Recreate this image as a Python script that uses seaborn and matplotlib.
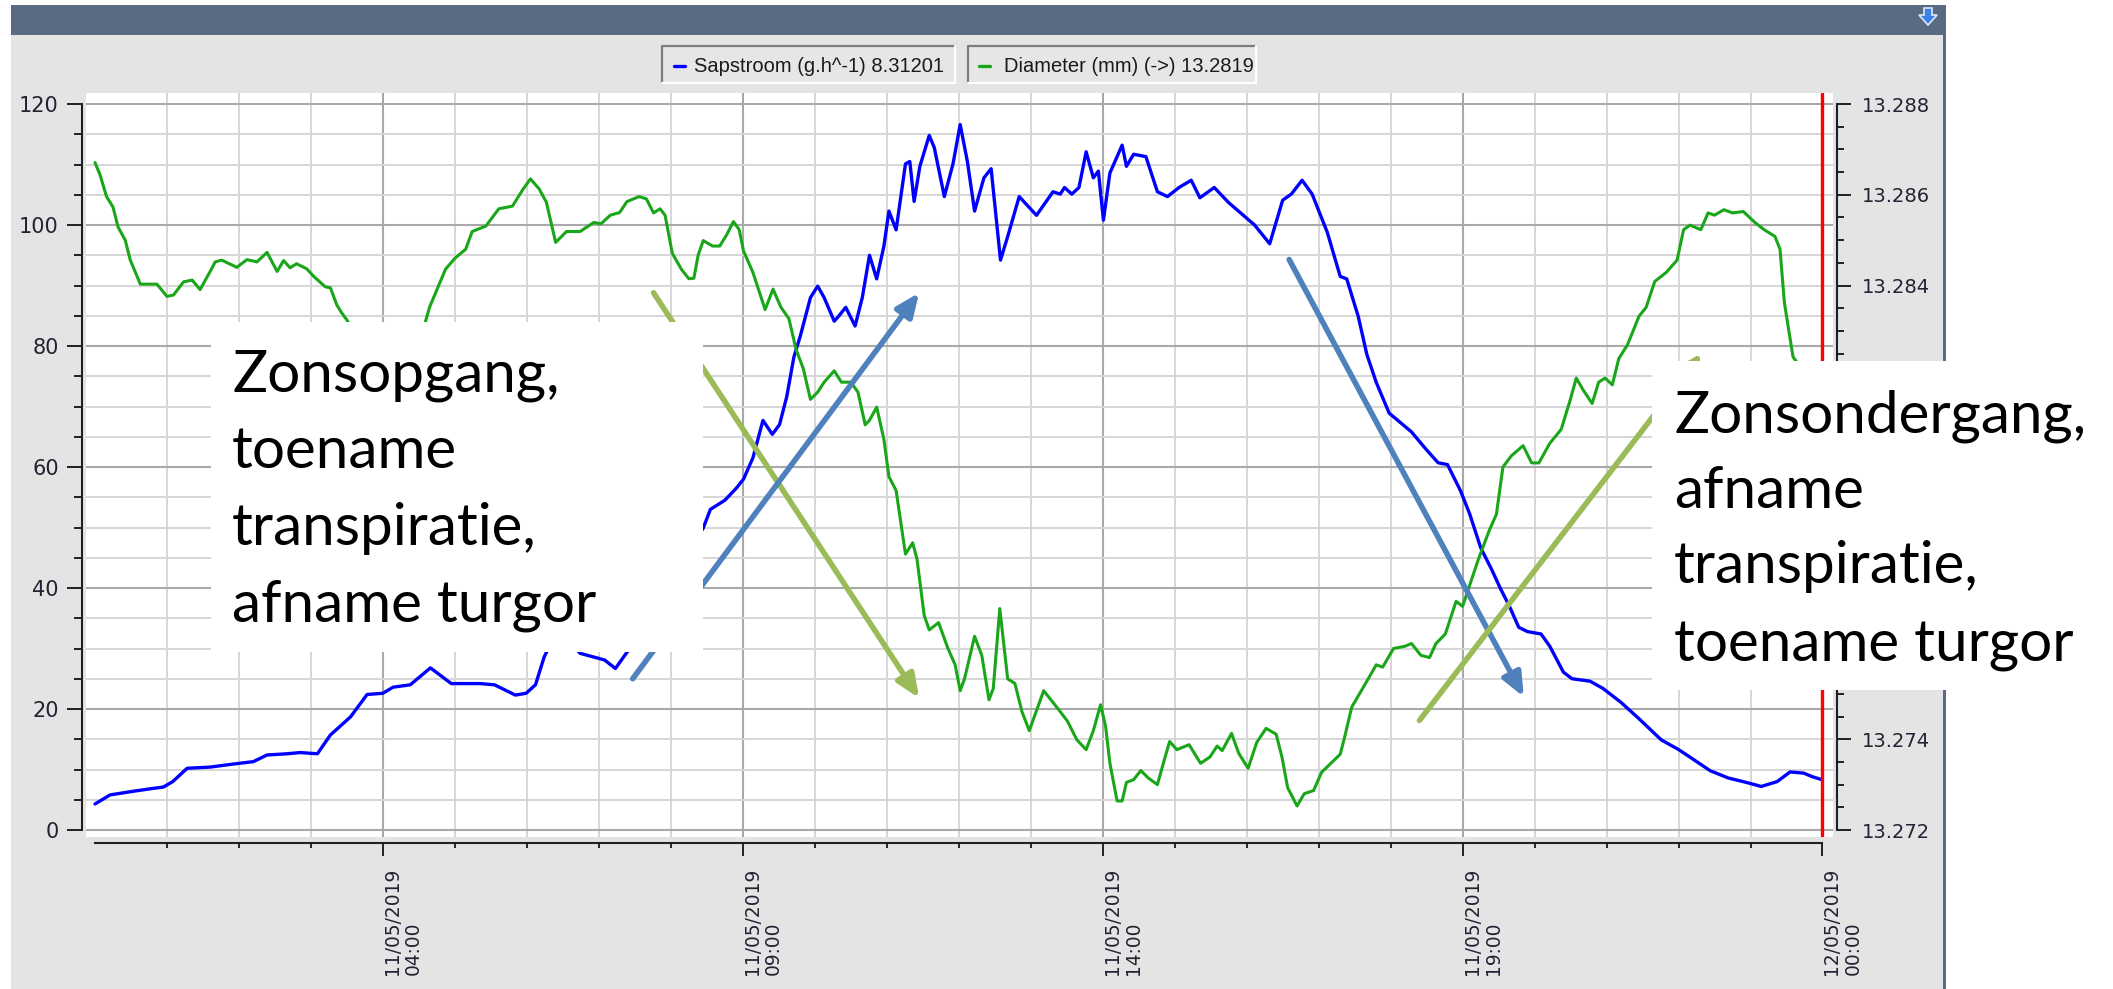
import numpy as np
import pandas as pd
import matplotlib
matplotlib.use("Agg")
import matplotlib.pyplot as plt
import seaborn as sns
from matplotlib.patches import Rectangle, Polygon
from matplotlib.lines import Line2D

# ---------------- data ----------------
sap_hours = [0.00, 0.21, 0.53, 0.76, 0.95, 1.08, 1.28, 1.60, 1.92, 2.20, 2.39, 2.67, 2.85, 3.09,
             3.27, 3.55, 3.78, 4.00, 4.14, 4.38, 4.66, 4.95, 5.35, 5.55, 5.84, 5.99, 6.12, 6.24,
             6.32, 6.45, 6.60, 6.74, 7.08, 7.23, 7.38, 7.43, 7.70, 8.00, 8.25, 8.45, 8.55, 8.75,
             8.91, 9.01, 9.14, 9.28, 9.41, 9.51, 9.61, 9.71, 9.80, 9.94, 10.04, 10.13, 10.27,
             10.33, 10.43, 10.56, 10.66, 10.76, 10.86, 10.96, 11.03, 11.13, 11.26, 11.32, 11.38,
             11.46, 11.59, 11.66, 11.80, 11.92, 12.02, 12.12, 12.22, 12.35, 12.45, 12.58, 12.68,
             12.84, 13.08, 13.31, 13.41, 13.47, 13.57, 13.67, 13.77, 13.87, 13.94, 14.01, 14.10,
             14.27, 14.33, 14.43, 14.60, 14.76, 14.90, 15.06, 15.23, 15.35, 15.55, 15.75, 16.11,
             16.32, 16.50, 16.62, 16.77, 16.91, 17.12, 17.30, 17.39, 17.55, 17.67, 17.80, 17.98,
             18.29, 18.48, 18.66, 18.79, 18.97, 19.10, 19.25, 19.41, 19.53, 19.65, 19.78, 19.90,
             20.09, 20.21, 20.40, 20.52, 20.77, 20.95, 21.20, 21.45, 21.76, 22.00, 22.19, 22.44,
             22.69, 22.93, 23.15, 23.37, 23.55, 23.74, 23.86, 24.00]
sap_flow = [4.3, 5.8, 6.4, 6.8, 7.1, 8.0, 10.2, 10.4, 10.9, 11.3, 12.4, 12.6, 12.8, 12.6,
            15.7, 18.7, 22.4, 22.6, 23.6, 24.0, 26.8, 24.2, 24.2, 24.0, 22.3, 22.6, 24.0, 28.6,
            30.5, 33.0, 31.0, 29.2, 28.1, 26.7, 29.2, 30.0, 36.0, 42.0, 46.0, 49.9, 53.0, 54.5,
            56.5, 58.0, 61.5, 67.7, 65.4, 67.0, 71.6, 78.2, 81.7, 88.0, 89.9, 88.0, 84.1,
            84.9, 86.4, 83.3, 88.0, 95.0, 91.1, 96.5, 102.3, 99.2, 110.1, 110.5, 103.9,
            109.7, 114.8, 112.8, 104.7, 110.1, 116.6, 110.5, 102.3, 107.8, 109.3, 94.2, 98.1,
            104.7, 101.6, 105.5, 105.1, 106.2, 105.1, 106.2, 112.1, 107.8, 108.9, 100.8, 108.6,
            113.2, 109.7, 111.7, 111.3, 105.5, 104.7, 106.2, 107.4, 104.5, 106.2, 103.7, 100.0,
            96.9, 104.1, 105.1, 107.4, 105.1, 98.8, 91.5, 91.1, 84.9, 78.6, 74.0, 68.9,
            65.8, 63.1, 60.7, 60.4, 56.1, 52.2, 46.7, 42.9, 39.8, 37.0, 33.5, 32.8,
            32.4, 30.4, 26.1, 25.0, 24.6, 23.4, 21.1, 18.4, 14.9, 13.3, 11.8, 9.8,
            8.6, 7.9, 7.2, 8.0, 9.6, 9.4, 8.8, 8.3]

dia_hours = [0.00, 0.07, 0.16, 0.25, 0.32, 0.42, 0.49, 0.63, 0.86, 1.00, 1.09, 1.23, 1.35, 1.46,
             1.60, 1.67, 1.76, 1.97, 2.11, 2.25, 2.39, 2.53, 2.62, 2.71, 2.80, 2.94, 3.04, 3.20,
             3.27, 3.36, 3.43, 3.50, 3.70, 3.90, 4.10, 4.30, 4.50, 4.59, 4.65, 4.75, 4.87, 5.00,
             5.15, 5.24, 5.43, 5.61, 5.80, 5.95, 6.05, 6.17, 6.27, 6.40, 6.55, 6.74, 6.93, 7.03,
             7.16, 7.29, 7.39, 7.56, 7.66, 7.76, 7.85, 7.92, 8.02, 8.15, 8.25, 8.32, 8.38, 8.45,
             8.58, 8.68, 8.78, 8.87, 8.95, 9.01, 9.14, 9.31, 9.42, 9.53, 9.64, 9.74, 9.84, 9.94,
             10.04, 10.13, 10.27, 10.37, 10.50, 10.60, 10.70, 10.76, 10.86, 10.96, 11.03, 11.13,
             11.26, 11.36, 11.42, 11.52, 11.59, 11.72, 11.85, 11.95, 12.02, 12.08, 12.22, 12.32,
             12.42, 12.48, 12.57, 12.68, 12.78, 12.88, 12.98, 13.18, 13.38, 13.51, 13.64, 13.77,
             13.87, 13.97, 14.04, 14.10, 14.20, 14.27, 14.33, 14.43, 14.53, 14.63, 14.76, 14.86,
             14.93, 15.03, 15.20, 15.36, 15.49, 15.59, 15.66, 15.79, 15.89, 16.02, 16.14, 16.27,
             16.41, 16.49, 16.57, 16.70, 16.80, 16.93, 17.04, 17.17, 17.30, 17.36, 17.46, 17.67,
             17.80, 17.89, 18.04, 18.20, 18.29, 18.42, 18.54, 18.63, 18.76, 18.91, 19.00, 19.10,
             19.22, 19.37, 19.47, 19.56, 19.68, 19.84, 19.96, 20.06, 20.21, 20.37, 20.49, 20.58,
             20.67, 20.80, 20.89, 20.98, 21.08, 21.17, 21.29, 21.45, 21.55, 21.67, 21.83, 21.98,
             22.07, 22.16, 22.31, 22.41, 22.50, 22.63, 22.75, 22.90, 23.06, 23.19, 23.34, 23.41,
             23.47, 23.59, 23.75, 24.00]
dia_mm = [13.28671, 13.28644, 13.28596, 13.28573, 13.28529, 13.28500, 13.28456, 13.28403,
          13.28403, 13.28376, 13.28379, 13.28408, 13.28412, 13.28391, 13.28431, 13.28452,
          13.28456, 13.28440, 13.28457, 13.28452, 13.28473, 13.28431, 13.28455, 13.28439,
          13.28448, 13.28437, 13.28420, 13.28397, 13.28395, 13.28357, 13.28339, 13.28324,
          13.28267, 13.28227, 13.28213, 13.28240, 13.28280, 13.28320, 13.28353, 13.28391,
          13.28436, 13.28460, 13.28480, 13.28519, 13.28531, 13.28569, 13.28575, 13.28613,
          13.28635, 13.28613, 13.28584, 13.28495, 13.28519, 13.28519, 13.28539, 13.28536,
          13.28555, 13.28561, 13.28585, 13.28596, 13.28591, 13.28560, 13.28569, 13.28555,
          13.28471, 13.28435, 13.28415, 13.28416, 13.28467, 13.28499, 13.28487, 13.28487,
          13.28513, 13.28541, 13.28523, 13.28476, 13.28429, 13.28347, 13.28392, 13.28352,
          13.28327, 13.28259, 13.28217, 13.28149, 13.28165, 13.28187, 13.28212, 13.28187,
          13.28187, 13.28165, 13.28093, 13.28103, 13.28132, 13.28061, 13.27979, 13.27948,
          13.27808, 13.27833, 13.27797, 13.27673, 13.27641, 13.27657, 13.27600, 13.27564,
          13.27507, 13.27533, 13.27627, 13.27585, 13.27487, 13.27512, 13.27688, 13.27533,
          13.27523, 13.27460, 13.27419, 13.27507, 13.27467, 13.27440, 13.27399, 13.27377,
          13.27419, 13.27476, 13.27429, 13.27347, 13.27264, 13.27264, 13.27305, 13.27311,
          13.27331, 13.27315, 13.27300, 13.27357, 13.27395, 13.27377, 13.27388, 13.27347,
          13.27361, 13.27385, 13.27375, 13.27413, 13.27369, 13.27336, 13.27393, 13.27424,
          13.27411, 13.27361, 13.27293, 13.27253, 13.27280, 13.27287, 13.27327, 13.27347,
          13.27367, 13.27404, 13.27471, 13.27528, 13.27564, 13.27559, 13.27600, 13.27605,
          13.27611, 13.27585, 13.27580, 13.27611, 13.27632, 13.27704, 13.27693, 13.27740,
          13.27797, 13.27860, 13.27896, 13.28000, 13.28025, 13.28047, 13.28009, 13.28009,
          13.28052, 13.28083, 13.28145, 13.28196, 13.28171, 13.28140, 13.28187, 13.28196,
          13.28181, 13.28239, 13.28269, 13.28332, 13.28352, 13.28409, 13.28429, 13.28456,
          13.28523, 13.28533, 13.28523, 13.28560, 13.28555, 13.28567, 13.28560, 13.28563,
          13.28539, 13.28523, 13.28508, 13.28480, 13.28363, 13.28243, 13.28207, 13.28191]

x_major_ticks = [4, 9, 14, 19, 24]
x_tick_labels = ["11/05/2019\n04:00", "11/05/2019\n09:00", "11/05/2019\n14:00",
                 "11/05/2019\n19:00", "12/05/2019\n00:00"]
left_ticks = [0, 20, 40, 60, 80, 100, 120]
left_tick_labels = ["0", "20", "40", "60", "80", "100", "120"]
right_ticks = [13.272, 13.274, 13.276, 13.278, 13.280, 13.282, 13.284, 13.286, 13.288]
right_tick_labels = ["13.272", "13.274", "13.276", "13.278", "13.280", "13.282",
                     "13.284", "13.286", "13.288"]
legend_labels = ["Sapstroom (g.h^-1) 8.31201", "Diameter (mm) (->) 13.2819"]
note_left = ["Zonsopgang,", "toename", "transpiratie,", "afname turgor"]
note_right = ["Zonsondergang,", "afname", "transpiratie,", "toename turgor"]

# ---------------- styling ----------------
W, H, DPI = 2113, 989, 100
BLUE = "#0000ff"
GREEN = "#19a619"
ARROW_BLUE = "#4f81bd"
ARROW_GREEN = "#9bbb59"
PANEL = "#e4e4e4"
HEADER = "#5a6a80"
TXT = "#222233"
AX_COL = "#202020"
TICK_FONT = "DejaVu Sans"

sns.set_theme(style="white")
plt.rcParams["font.family"] = ["Liberation Sans", "DejaVu Sans"]

fig = plt.figure(figsize=(W / DPI, H / DPI), dpi=DPI, facecolor="white")


def fx(px):
    return px / W


def fy(py):
    return 1 - py / H


def rect(x0, y0, x1, y1, **kw):
    r = Rectangle((fx(x0), fy(y1)), fx(x1) - fx(x0), fy(y0) - fy(y1),
                  transform=fig.transFigure, **kw)
    fig.add_artist(r)
    return r


def fline(xs, ys, **kw):
    ln = Line2D([fx(v) for v in xs], [fy(v) for v in ys], transform=fig.transFigure, **kw)
    fig.add_artist(ln)
    return ln


# application panel
rect(11, 35, 1943, 989, fc=PANEL, ec="none", zorder=-5)
rect(11, 5, 1946, 35, fc=HEADER, ec="none", zorder=-4)
rect(1943, 5, 1946, 989, fc=HEADER, ec="none", zorder=-4)
icon = Polygon([(fx(1924), fy(8)), (fx(1932), fy(8)), (fx(1932), fy(15)), (fx(1937), fy(15)),
                (fx(1928), fy(25)), (fx(1919), fy(15)), (fx(1924), fy(15))],
               closed=True, transform=fig.transFigure, fc="#3b82e6", ec="#dce8fa", lw=1.2,
               zorder=-3)
fig.add_artist(icon)

# axes
ax = fig.add_axes([fx(86), fy(837), fx(1833) - fx(86), fy(93) - fy(837)])
ax.set_facecolor("white")
ax2 = ax.twinx()

sap_df = pd.DataFrame({"uur": sap_hours, "sapstroom": sap_flow})
dia_df = pd.DataFrame({"uur": dia_hours, "diameter": dia_mm})
sns.lineplot(data=sap_df, x="uur", y="sapstroom", ax=ax, color=BLUE, linewidth=2.4,
             estimator=None, legend=False)
sns.lineplot(data=dia_df, x="uur", y="diameter", ax=ax2, color=GREEN, linewidth=2.2,
             estimator=None, legend=False)

XLIM = (-0.125, 24.146)
YLIM = (-1.157, 121.82)
ax.set_xlim(*XLIM)
ax.set_ylim(*YLIM)
ax2.set_ylim(13.272 + YLIM[0] * 0.016 / 120, 13.272 + YLIM[1] * 0.016 / 120)
for a in (ax, ax2):
    a.set_xlabel("")
    a.set_ylabel("")

# spines first (positioning spines resets the tick objects)
for side in ("top", "right"):
    ax.spines[side].set_visible(False)
for side in ("top", "left", "bottom"):
    ax2.spines[side].set_visible(False)
ax.spines["left"].set_bounds(0, 120)
ax.spines["left"].set_position(("outward", 2.9))
ax.spines["bottom"].set_bounds(0, 24)
ax.spines["bottom"].set_position(("outward", 4.3))
ax2.spines["right"].set_bounds(13.272, 13.288)
ax2.spines["right"].set_position(("outward", 2.9))
for sp in (ax.spines["left"], ax.spines["bottom"], ax2.spines["right"]):
    sp.set_color(AX_COL)
    sp.set_linewidth(1.5)

# ticks and grid
ax.set_xticks(x_major_ticks)
ax.set_xticks(list(range(1, 24)), minor=True)
ax.set_yticks(left_ticks)
ax.set_yticks(list(range(0, 121, 5)), minor=True)
ax.grid(which="major", color="#a9a9a9", linewidth=1.5)
ax.grid(which="minor", color="#d6d6d6", linewidth=1.4)
ax.set_axisbelow(True)

ax.tick_params(axis="y", which="major", left=True, length=10.8, width=1.4, pad=6,
               direction="out", color=AX_COL, labelsize=15, labelcolor=TXT,
               labelfontfamily=TICK_FONT)
ax.tick_params(axis="y", which="minor", left=True, length=5.8, width=1.4, direction="out",
               color=AX_COL)
ax.tick_params(axis="x", which="major", bottom=True, length=9.4, width=1.4, pad=8.6,
               direction="out", color=AX_COL, labelsize=13.4, labelcolor=TXT,
               labelfontfamily=TICK_FONT)
ax.tick_params(axis="x", which="minor", bottom=True, length=3.6, width=1.4, direction="out",
               color=AX_COL)
ax.set_xticklabels(x_tick_labels)
ax.set_yticklabels(left_tick_labels)

ax2.set_yticks(right_ticks)
ax2.set_yticks([13.272 + 0.0005 * i for i in range(33)], minor=True)
ax2.tick_params(axis="y", which="major", right=True, length=10, width=1.4, pad=8,
                direction="out", color=AX_COL, labelsize=14, labelcolor=TXT,
                labelfontfamily=TICK_FONT)
ax2.tick_params(axis="y", which="minor", right=True, length=5, width=1.4, direction="out",
                color=AX_COL)
ax2.set_yticklabels(right_tick_labels)
ax2.grid(False)

for lab in ax.get_xticklabels():
    lab.set_rotation(90)
    lab.set_horizontalalignment("left")
    lab.set_verticalalignment("top")
    lab.set_multialignment("left")
    lab.set_linespacing(1.15)

# cursor line
ax2.axvline(24, color="#ff0000", linewidth=2.4, zorder=6)

# annotation arrows (in data coordinates of the left axis)
arrows = [
    ((7.76, 88.8), (11.45, 21.8), ARROW_GREEN),
    ((7.47, 25.0), (11.45, 88.8), ARROW_BLUE),
    ((16.59, 94.3), (19.85, 22.0), ARROW_BLUE),
    ((18.40, 18.1), (22.32, 78.8), ARROW_GREEN),
]
for tail, head, col in arrows:
    ax2.annotate("", xy=head, xytext=tail, xycoords=ax.transData, textcoords=ax.transData,
                 annotation_clip=False, zorder=7,
                 arrowprops=dict(arrowstyle="-|>,head_length=0.7,head_width=0.3", color=col,
                                 lw=4, mutation_scale=20, shrinkA=0, shrinkB=0))


# legend boxes
def legend_box(x0, x1, dash_x, text_x, color, label):
    rect(x0, 46, x1, 83, fc="#e6e6e6", ec="none", zorder=2)
    fline([x0, x0, x1], [83, 46, 46], color="#7d7d7d", lw=1.6, zorder=3)
    fline([x0, x1, x1], [83, 83, 46], color="#ffffff", lw=1.6, zorder=3)
    fline([dash_x, dash_x + 11], [66, 66], color=color, lw=2.4, zorder=3)
    fig.text(fx(text_x), fy(72), label, fontsize=14.5, color="#1a1a1a", ha="left",
             va="baseline", zorder=3)


legend_box(662, 955, 674, 694, BLUE, legend_labels[0])
legend_box(968, 1256, 979, 1004, GREEN, legend_labels[1])

# text boxes
rect(211, 322, 703, 652, fc="white", ec="none", zorder=10)
rect(1652, 361, 2113, 690, fc="white", ec="none", zorder=10)
for line, base in zip(note_left, [392, 468, 545, 622]):
    fig.text(fx(232), fy(base), line, fontsize=42, color="black", ha="left", va="baseline",
             family=["Lato", "DejaVu Sans"], zorder=11)
for line, base in zip(note_right, [432, 508, 583, 662]):
    fig.text(fx(1674), fy(base), line, fontsize=42, color="black", ha="left", va="baseline",
             family=["Lato", "DejaVu Sans"], zorder=11)

fig.savefig("out.png", dpi=DPI, facecolor="white")
